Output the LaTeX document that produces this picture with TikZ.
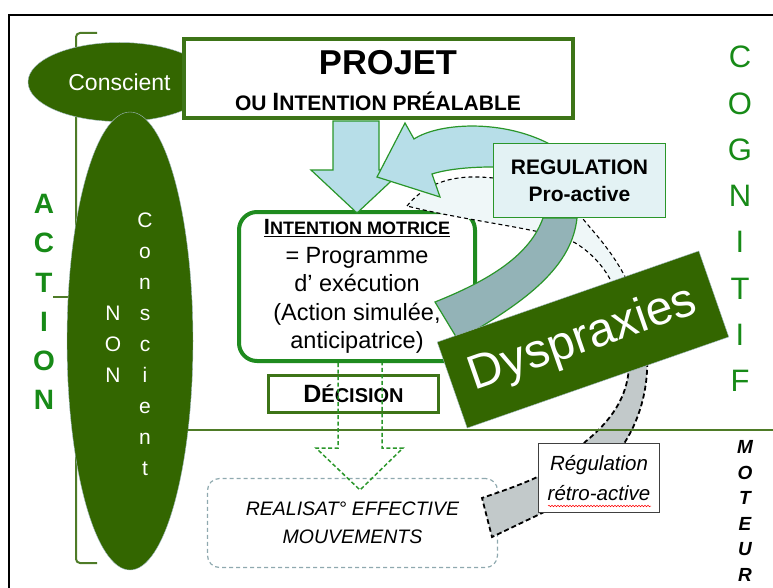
\documentclass[tikz,border=0pt]{standalone}
\usepackage{fontspec}
\setmainfont{Liberation Sans}
\usepackage{xcolor}
\usetikzlibrary{shapes.geometric,decorations.pathmorphing}
\definecolor{vertfonce}{HTML}{336600}
\definecolor{vertcadre}{HTML}{3D7417}
\definecolor{vertvif}{HTML}{1F8B1F}
\definecolor{vertligne}{HTML}{2A962A}
\definecolor{vertlettre}{HTML}{178A17}
\definecolor{vertolive}{HTML}{4E7B27}
\definecolor{bleuclair}{HTML}{B7DEE8}
\definecolor{bleupale}{HTML}{E3F2F4}
\definecolor{blancbleu}{HTML}{EFF7F8}
\definecolor{grisbleu}{HTML}{93B3B7}
\definecolor{grisclair}{HTML}{C2C9CA}
\definecolor{bordellipse}{HTML}{A3BCC7}
\definecolor{pointilles}{HTML}{8FA9AF}
\newcommand{\capsize}[2]{{\fontsize{#1}{#1}\selectfont #2}}

\begin{document}
\begin{tikzpicture}[x=1pt,y=-1pt,
  every node/.style={inner sep=0pt},
  boite/.style={draw=vertcadre, line width=4pt, fill=white},
  fleche/.style={draw=vertligne, line width=1.2pt},
  tirets/.style={draw=black, line width=1.1pt, dash pattern=on 4pt off 3pt},
  lettres/.style={align=center, text=vertlettre}]
\useasboundingbox (0,0) rectangle (773,588);
\draw [black, line width=1.5pt] (9,588) -- (9,15) -- (773,15);
\draw [vertolive, line width=2pt, rounded corners=4pt] (97,33) -- (76,33) -- (76,563) -- (97,563);
\draw [vertolive, line width=2pt] (76,297) -- (53,297);
\node [lettres, font=\fontsize{28}{39.2}\selectfont\bfseries] (action) at (44,302) {A\\C\\T\\I\\O\\N};
\node [lettres, font=\fontsize{31}{46.3}\selectfont] (cognitif) at (740,219) {C\\O\\G\\N\\I\\T\\I\\F};
\node [align=center, font=\fontsize{19}{25.6}\selectfont\bfseries\itshape] (moteur) at (745,511) {M\\O\\T\\E\\U\\R};
\node [ellipse, draw=bordellipse, fill=vertfonce, minimum width=183pt, minimum height=79pt, text=white, font=\fontsize{23}{23}\selectfont] (conscient) at (119.5,82) {Conscient};
\node [ellipse, draw=bordellipse, fill=vertfonce, minimum width=126pt, minimum height=458pt] (nonconscient) at (130,341) {};
\node [align=center, text=white, font=\fontsize{21}{31}\selectfont] (non) at (113,344) {N\\O\\N};
\node [align=center, text=white, font=\fontsize{21}{31}\selectfont] (conscientv) at (145,344) {C\\o\\n\\s\\c\\i\\e\\n\\t};

\node [boite, minimum width=389pt, minimum height=79pt] (projet) at (378.5,78.5) {};
\node [font=\fontsize{34.5}{34.5}\selectfont\bfseries] (projettitre) at (388,63) {PROJET};
\node [font=\bfseries] (prealable) at (378,101) {\capsize{21}{OU }\capsize{25}{I}\capsize{21}{NTENTION PRÉALABLE}};
\node [boite, draw=vertvif, rounded corners=18pt, minimum width=236pt, minimum height=149pt, align=center, font=\fontsize{23.5}{28.5}\selectfont] (intention) at (357,286.5) {\underline{\textbf{\capsize{22}{I}\capsize{18}{NTENTION MOTRICE}}}\\= Programme\\d’ exécution\\(Action simulée,\\anticipatrice)};
\node [boite, line width=3pt, minimum width=170pt, minimum height=37pt, font=\bfseries] (decision) at (353.5,394) {\capsize{25}{D}\capsize{20}{ÉCISION}};
\node [draw=pointilles, line width=1.2pt, dash pattern=on 4pt off 3pt, rounded corners=12pt, minimum width=290pt, minimum height=89pt, align=center, font=\fontsize{19.5}{28}\selectfont\itshape] (realisation) at (352.5,523) {REALISAT° EFFECTIVE\\MOUVEMENTS};

\draw [tirets, fill=blancbleu] (407,206) .. controls (420,190) and (440,178) .. (470,177) .. controls (520,176) and (565,195) .. (588,225) .. controls (605,245) and (632,275) .. (642,325) -- (624,325) .. controls (620,290) and (605,262) .. (577,244) .. controls (555,230) and (470,222) .. (407,206) -- cycle;
\draw [fleche, fill=bleuclair] (333,121) -- (333,170) -- (311,170) -- (357,213) -- (403,170) -- (379,170) -- (379,121) -- cycle;
\draw [fleche, fill=bleuclair] (405,123) -- (414,139) .. controls (440,122) and (510,118) .. (560,150) -- (560,175) .. controls (520,164) and (460,165) .. (432,174) -- (440,197) -- (377,177) -- cycle;
\draw [fleche, fill=grisbleu] (543,218) -- (577,218) .. controls (572,265) and (530,300) .. (458,340) -- (435,302) .. controls (490,280) and (530,255) .. (543,218) -- cycle;
\node [draw=vertligne, line width=1.2pt, fill=bleupale, minimum width=172pt, minimum height=74pt, align=center, font=\fontsize{21}{27}\selectfont\bfseries] (regulation) at (579.5,180.5) {REGULATION\\Pro-active};

\draw [draw=black, line width=1.8pt, dash pattern=on 5pt off 3pt, fill=grisclair] (644,330) .. controls (652,370) and (645,410) .. (625,442) .. controls (600,480) and (570,500) .. (540,514) -- (492,537) -- (482,498) .. controls (520,485) and (565,470) .. (585,442) .. controls (622,412) and (638,378) .. (624,330) -- cycle;
\draw [vertolive, line width=1.5pt] (188,430) -- (773,430);
\node [draw=bordellipse, fill=vertfonce, rotate=19.2, minimum width=277pt, minimum height=91pt, text=white, font=\fontsize{48}{48}\selectfont] (dyspraxies) at (583,339.5) {Dyspraxies};
\node [draw=black!75, line width=1.2pt, fill=white, minimum width=121pt, minimum height=69pt, align=center, font=\fontsize{20.5}{30}\selectfont\itshape] (retroactive) at (599,478) {Régulation\\rétro-active};
\draw [red, line width=0.5pt, decorate, decoration={snake, amplitude=0.8pt, segment length=3pt}] (548,506) -- (651,506);

\draw [draw=vertligne, line width=1.5pt, dash pattern=on 4pt off 2.5pt] (338,363) -- (338,448) -- (316,448) -- (360,490) -- (403,448) -- (382,448) -- (382,363);
\end{tikzpicture}
\end{document}
